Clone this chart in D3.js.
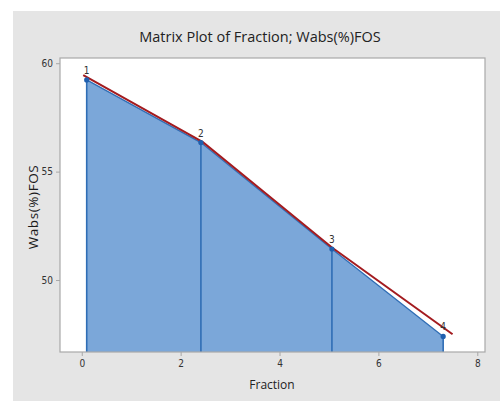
<!DOCTYPE html>
<html>
<head>
<meta charset="utf-8">
<script src="https://cdn.jsdelivr.net/npm/d3@7"></script>
<style>
  html, body { margin: 0; padding: 0; background: #ffffff; }
  svg { display: block; }
</style>
</head>
<body>
<svg id="chart" width="500" height="402"></svg>
<script>
// Observations: Fraction vs Wabs(%)FOS
const pointIds = ["1", "2", "3", "4"];
const fraction = [0.1, 2.41, 5.06, 7.31];
const wabs = [59.23, 56.34, 51.43, 47.4];

// Smoothed fit line through the observations
const fitX = [0.03, 2.45, 5.06, 7.5];
const fitY = [59.45, 56.36, 51.5, 47.5];

const xTicks = [0, 2, 4, 6, 8];
const yTicks = [50, 55, 60];

const svg = d3.select("#chart");
const W = 500, H = 402;

// outer panel
svg.append("rect").attr("x", 13).attr("y", 11).attr("width", W - 13).attr("height", 390)
  .attr("fill", "#e5e5e5");

const plot = { left: 60, right: 485, top: 58, bottom: 352 };

const x = d3.scaleLinear().domain([-0.44, 8.156]).range([plot.left, plot.right]);
const y = d3.scaleLinear().domain([46.68, 60.24]).range([plot.bottom, plot.top]);

svg.append("rect")
  .attr("x", plot.left).attr("y", plot.top)
  .attr("width", plot.right - plot.left).attr("height", plot.bottom - plot.top)
  .attr("fill", "#ffffff");

const pts = fraction.map((f, i) => ({ x: f, y: wabs[i], id: pointIds[i] }));

// shaded area under the observations
const area = d3.area()
  .x(d => x(d.x))
  .y0(plot.bottom)
  .y1(d => y(d.y));
svg.append("path").datum(pts)
  .attr("d", area)
  .attr("fill", "#7ba7d9");

svg.append("path").datum(pts)
  .attr("d", d3.line().x(d => x(d.x)).y(d => y(d.y)))
  .attr("fill", "none").attr("stroke", "#2f6db5").attr("stroke-width", 1.3);

// drop lines
svg.selectAll("line.drop").data(pts).enter().append("line")
  .attr("class", "drop")
  .attr("x1", d => x(d.x)).attr("x2", d => x(d.x))
  .attr("y1", d => y(d.y)).attr("y2", plot.bottom)
  .attr("stroke", "#2f6db5").attr("stroke-width", 1.6);

// fit line
const fit = fitX.map((v, i) => ({ x: v, y: fitY[i] }));
svg.append("path").datum(fit)
  .attr("d", d3.line().x(d => x(d.x)).y(d => y(d.y)))
  .attr("fill", "none").attr("stroke", "#a31b1f").attr("stroke-width", 2);

// points
svg.selectAll("circle.pt").data(pts).enter().append("circle")
  .attr("class", "pt")
  .attr("cx", d => x(d.x)).attr("cy", d => y(d.y)).attr("r", 2.6)
  .attr("fill", "#1f5fae");

// point labels
svg.selectAll("text.lbl").data(pts).enter().append("text")
  .attr("class", "lbl")
  .attr("x", d => x(d.x)).attr("y", d => y(d.y) - 6)
  .attr("text-anchor", "middle")
  .attr("font-family", "'Liberation Sans Narrow', 'DejaVu Sans Condensed', sans-serif")
  .attr("font-size", 10).attr("fill", "#333")
  .text(d => d.id);

// frame
svg.append("rect")
  .attr("x", plot.left).attr("y", plot.top)
  .attr("width", plot.right - plot.left).attr("height", plot.bottom - plot.top)
  .attr("fill", "none").attr("stroke", "#a8a8a8").attr("stroke-width", 1.2);

// axes
const tickFont = "'Liberation Sans Narrow', 'DejaVu Sans Condensed', sans-serif";
const xAxis = svg.append("g").attr("transform", `translate(0,${plot.bottom})`)
  .call(d3.axisBottom(x).tickValues(xTicks).tickSize(4).tickPadding(4).tickFormat(d3.format("d")));
const yAxis = svg.append("g").attr("transform", `translate(${plot.left},0)`)
  .call(d3.axisLeft(y).tickValues(yTicks).tickSize(4).tickPadding(3).tickFormat(d3.format("d")));
[xAxis, yAxis].forEach(g => {
  g.select(".domain").remove();
  g.selectAll(".tick line").attr("stroke", "#a8a8a8");
  g.selectAll(".tick text").attr("font-family", tickFont).attr("font-size", 10).attr("fill", "#333");
});

// titles
svg.append("text")
  .attr("x", 260).attr("y", 42)
  .attr("text-anchor", "middle")
  .attr("font-family", "'Open Sans', sans-serif")
  .attr("font-size", 14.5).attr("fill", "#222")
  .text("Matrix Plot of Fraction; Wabs(%)FOS");

svg.append("text")
  .attr("x", 272).attr("y", 389)
  .attr("text-anchor", "middle")
  .attr("font-family", "'Open Sans', sans-serif")
  .attr("font-size", 12).attr("fill", "#222")
  .text("Fraction");

svg.append("text")
  .attr("transform", "translate(38,207) rotate(-90)")
  .attr("text-anchor", "middle")
  .attr("font-family", "'Open Sans', sans-serif")
  .attr("font-size", 13.5).attr("fill", "#1a1a1a")
  .attr("letter-spacing", 0.6)
  .text("Wabs(%)FOS");
</script>
</body>
</html>
